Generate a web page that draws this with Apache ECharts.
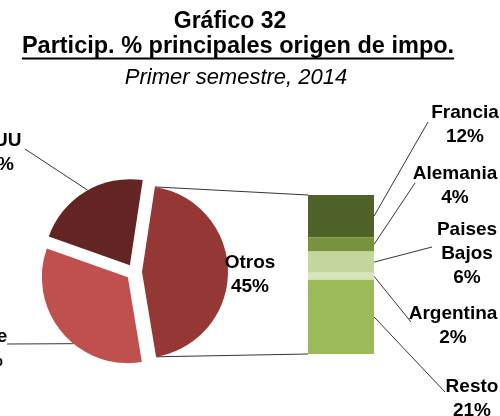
<!DOCTYPE html>
<html>
<head>
<meta charset="utf-8">
<script src="https://cdn.jsdelivr.net/npm/echarts@6/dist/echarts.min.js"></script>
<style>
    html, body { margin: 0; padding: 0; background: #fff; }
    #chart { width: 500px; height: 416px; }
</style>
</head>
<body>
<div id="chart"></div>
<script>
// main origins (pie)
var pieNames = ['Otros', 'Chile', 'EEUU'];
var pieValues = [45, 33, 22];
var pieColors = ['#953735', '#C0504D', '#632523'];

// breakdown of "Otros" (stacked bar)
var barNames = ['Francia', 'Alemania', 'Paises Bajos', 'Argentina', 'Resto'];
var barValues = [12, 4, 6, 2, 21];
var barColors = ['#4F6228', '#77933C', '#C3D69B', '#D7E4BD', '#9BBB59'];

var titleLines = ['Gráfico 32', 'Particip. % principales origen de impo.', 'Primer semestre, 2014'];

// layout
var PIE_CENTER = [134, 272];
var PIE_R = 86;
var PIE_OFFSET = 8;
var PIE_START = 81.4;
var GRID = { left: 308, top: 195, width: 66, height: 159 };
var LABEL_FONT = "'Liberation Sans', Arial, sans-serif";
var LABEL_SIZE = 19;

// where the labels sit, and where their guide lines end
var pieLabelPos = [[250, 275], [-16, 349], [-5, 153]];
var pieLineEnd = [null, [7, 344], [25, 149]];
var pieLineAt = [0, 0.41, 0.52];    // fraction along the slice arc
var barLabelPos = [[465, 125], [455, 186], [467, 254], [453, 326], [472, 399]];
var barLineEnd = [[428, 122], [415, 183], [432, 247], [411, 322], [445, 392]];

var chart = echarts.init(document.getElementById('chart'));

var pieTotal = pieValues.reduce(function (a, b) { return a + b; }, 0);
var barTotal = barValues.reduce(function (a, b) { return a + b; }, 0);

var labelStyle = {
    color: '#000',
    fontFamily: LABEL_FONT,
    fontWeight: 'bold',
    fontSize: LABEL_SIZE,
    lineHeight: 24,
    align: 'center'
};

var pieData = pieNames.map(function (n, i) {
    return {
        name: n,
        value: pieValues[i],
        selected: true,
        itemStyle: { color: pieColors[i] },
        select: { itemStyle: { color: pieColors[i], borderWidth: 0 } }
    };
});

var series = [{
    type: 'pie',
    center: PIE_CENTER,
    radius: PIE_R,
    startAngle: PIE_START,
    clockwise: true,
    selectedMode: 'multiple',
    selectedOffset: PIE_OFFSET,
    silent: true,
    animation: false,
    itemStyle: { borderWidth: 0 },
    label: { show: false },
    labelLine: { show: false },
    data: pieData
}];

barNames.forEach(function (n, i) {
    series.push({
        type: 'bar',
        name: n,
        stack: 'otros',
        barWidth: GRID.width,
        silent: true,
        animation: false,
        itemStyle: { color: barColors[i] },
        label: Object.assign({
            show: true,
            position: 'right',
            formatter: function (p) { return p.seriesName.replace(' ', '\n') + '\n' + p.value + '%'; }
        }, labelStyle),
        labelLayout: {
            x: barLabelPos[i][0], y: barLabelPos[i][1],
            align: 'center', verticalAlign: 'middle'
        },
        data: [barValues[i]]
    });
});

chart.setOption({
    animation: false,
    grid: GRID,
    xAxis: { type: 'category', data: ['Otros'], show: false },
    yAxis: { type: 'value', min: 0, max: barTotal, inverse: true, show: false },
    series: series
});

// ---- guide lines, pie labels and title, computed from the drawn scales ----
function deg(a) { return a * Math.PI / 180; }

// start / end angle of each slice (degrees, ECharts convention, clockwise)
function sliceAngles(i) {
    var before = 0;
    for (var j = 0; j < i; j++) before += pieValues[j];
    var a0 = PIE_START - before / pieTotal * 360;
    var a1 = a0 - pieValues[i] / pieTotal * 360;
    return [a0, a1];
}

function slicePoint(i, ang, r) {
    var a = sliceAngles(i);
    var mid = deg((a[0] + a[1]) / 2);
    var vx = PIE_CENTER[0] + PIE_OFFSET * Math.cos(mid);
    var vy = PIE_CENTER[1] - PIE_OFFSET * Math.sin(mid);
    return [vx + r * Math.cos(deg(ang)), vy - r * Math.sin(deg(ang))];
}

var lineStyle = { stroke: '#000', lineWidth: 0.8 };
var graphics = [];

// pie to bar connectors
var otros = sliceAngles(0);
var barTop = chart.convertToPixel({ xAxisIndex: 0, yAxisIndex: 0 }, [0, 0]);
var barBottom = chart.convertToPixel({ xAxisIndex: 0, yAxisIndex: 0 }, [0, barTotal]);
var barLeft = barTop[0] - GRID.width / 2;
var barRight = barTop[0] + GRID.width / 2;
[[slicePoint(0, otros[0], PIE_R), [barLeft, barTop[1]]],
 [slicePoint(0, otros[1], PIE_R), [barLeft, barBottom[1]]]].forEach(function (seg) {
    graphics.push({ type: 'polyline', shape: { points: seg }, style: lineStyle, silent: true });
});

// pie labels and their lines
pieNames.forEach(function (n, i) {
    graphics.push({
        type: 'text', x: pieLabelPos[i][0], y: pieLabelPos[i][1], silent: true, z: 10,
        style: {
            text: n + '\n' + pieValues[i] + '%',
            font: 'bold ' + LABEL_SIZE + 'px ' + LABEL_FONT,
            lineHeight: 24, fill: '#000', align: 'center', verticalAlign: 'middle'
        }
    });
    if (!pieLineEnd[i]) return;
    var a = sliceAngles(i);
    var ang = a[0] + (a[1] - a[0]) * pieLineAt[i];
    graphics.push({
        type: 'polyline',
        shape: { points: [pieLineEnd[i], slicePoint(i, ang, PIE_R)] },
        style: lineStyle, silent: true
    });
});

// bar label lines
var acc = 0;
barNames.forEach(function (n, i) {
    var mid = chart.convertToPixel({ xAxisIndex: 0, yAxisIndex: 0 }, [0, acc + barValues[i] / 2]);
    acc += barValues[i];
    graphics.push({
        type: 'polyline',
        shape: { points: [[barRight, mid[1]], barLineEnd[i]] },
        style: lineStyle, silent: true
    });
});

// title
var titleFonts = [
    "bold 23px 'Liberation Sans', Arial, sans-serif",
    "bold 23.5px 'Liberation Sans', Arial, sans-serif",
    "italic 22px 'Liberation Sans', Arial, sans-serif"
];
var titleX = [230, 238, 236];
var titleY = [22, 47, 78];
titleLines.forEach(function (t, i) {
    graphics.push({
        type: 'text', x: titleX[i], y: titleY[i], silent: true,
        style: { text: t, font: titleFonts[i], fill: '#000', align: 'center', verticalAlign: 'middle' }
    });
});
var ctx = document.createElement('canvas').getContext('2d');
ctx.font = titleFonts[1];
var uw = ctx.measureText(titleLines[1]).width;
graphics.push({
    type: 'rect', silent: true,
    shape: { x: titleX[1] - uw / 2, y: 57.6, width: uw, height: 1.8 },
    style: { fill: '#000' }
});

chart.setOption({ graphic: graphics });
</script>
</body>
</html>
